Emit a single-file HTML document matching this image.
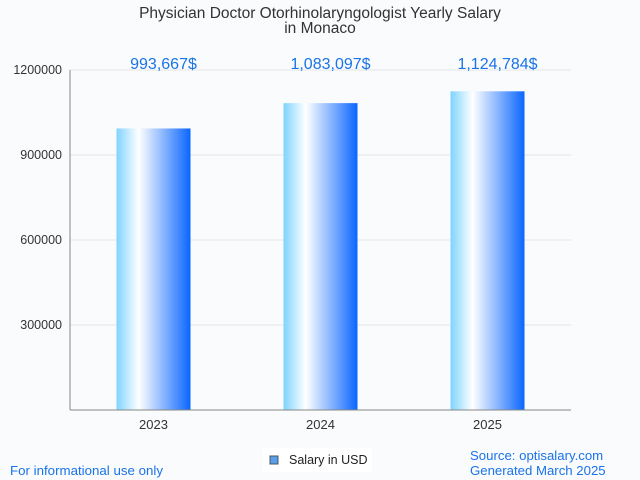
<!DOCTYPE html>
<html><head><meta charset="utf-8"><style>
body{margin:0;background:#f9fbfd;}
svg{display:block;font-family:"Liberation Sans",sans-serif;}
</style></head><body>
<svg id="c" width="640" height="480">
<defs><linearGradient id="g" x1="0" x2="1" y1="0" y2="0">
<stop offset="0" stop-color="#7fd3ff"/><stop offset="0.3" stop-color="#ffffff"/><stop offset="1" stop-color="#0a66ff"/>
</linearGradient></defs>
<rect width="640" height="480" fill="#f9fbfd"/>
<text x="320" y="18" text-anchor="middle" font-size="15.5" fill="#333">Physician Doctor Otorhinolaryngologist Yearly Salary</text>
<text x="320" y="33" text-anchor="middle" font-size="15.5" fill="#333">in Monaco</text>
<g id="grid"></g><g id="bars"></g>
<line x1="70" y1="410" x2="571" y2="410" stroke="#888"/>
<line x1="70" y1="70" x2="70" y2="410" stroke="#888"/>
<g>
<rect x="262" y="448" width="110" height="24" fill="#fff"/>
<rect x="270" y="456" width="8" height="8" fill="#5b9ee8" stroke="#456"/>
<text x="289" y="464" font-size="12.5" fill="#222">Salary in USD</text>
</g>
<text x="10" y="475" font-size="13.3" fill="#1a73e8">For informational use only</text>
<text x="470" y="460" font-size="13.2" fill="#1a73e8">Source: optisalary.com</text>
<text x="470" y="475" font-size="13.2" fill="#1a73e8">Generated March 2025</text>
</svg>
<script>
const categories=["2023","2024","2025"];
const values=[993667,1083097,1124784];
const valueLabels=["993,667$","1,083,097$","1,124,784$"];
const yTicks=[300000,600000,900000,1200000];
const NS="http://www.w3.org/2000/svg";
const x0=70,x1=571,y0=410,yTop=70,yMax=1200000;
const band=(x1-x0)/categories.length,bw=74;
const y=v=>y0-(v/yMax)*(y0-yTop);
const xc=i=>x0+band*(i+0.5);
function mk(t,a,p){const e=document.createElementNS(NS,t);for(const k in a)e.setAttribute(k,a[k]);p.appendChild(e);return e;}
const G=document.getElementById('grid'),B=document.getElementById('bars');
yTicks.forEach(t=>{
 const l=mk('line',{x1:x0,x2:x1,y1:y(t),y2:y(t),stroke:'#e2e4e8'},G);
 
 
 const tx=mk('text',{x:x0-8,y:y(t)+4,'text-anchor':'end','font-size':12.5,fill:'#333'},G);tx.textContent=t;
 
 
});
categories.forEach((c,i)=>{
 const r=mk('rect',{x:xc(i)-bw/2,y:y(values[i]),width:bw,height:y0-y(values[i]),fill:'url(#g)'},B);
 
 
 const v=mk('text',{x:xc(i)+10,y:69,'text-anchor':'middle','font-size':16,fill:'#1a73e8'},B);v.textContent=valueLabels[i];
 
 
 const t=mk('text',{x:xc(i),y:429,'text-anchor':'middle','font-size':13,fill:'#333'},B);t.textContent=c;
 
 
});
</script>
</body></html>
